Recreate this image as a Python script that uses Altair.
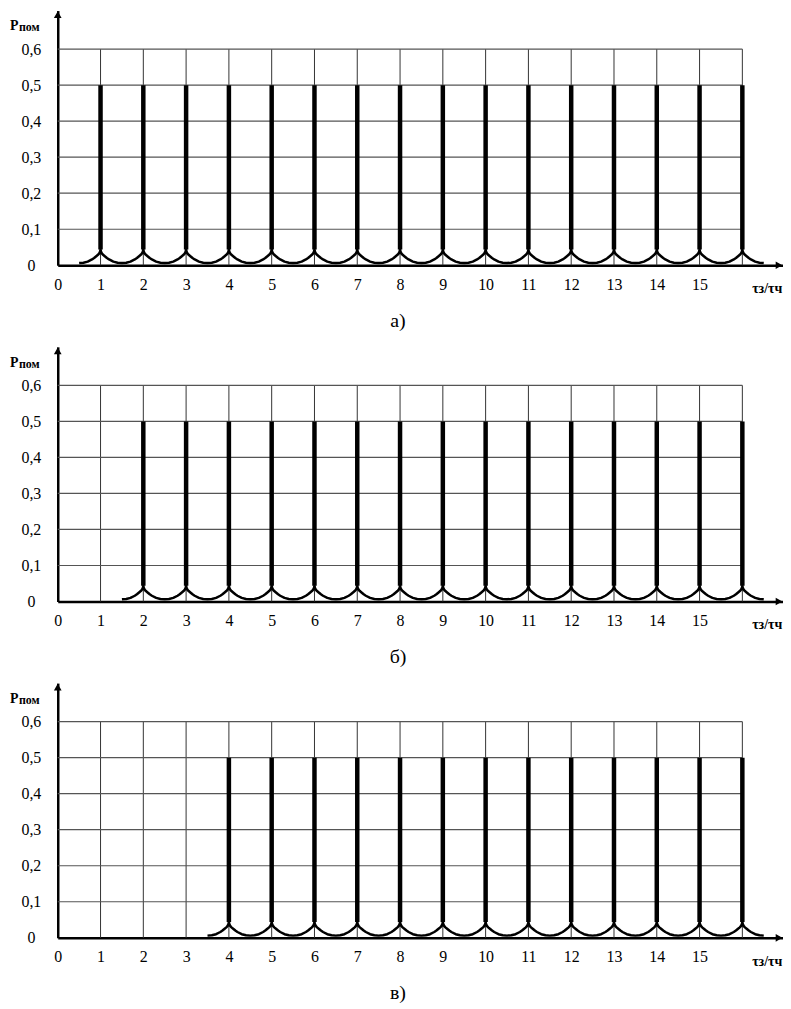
import altair as alt
import pandas as pd

# ---- data ----
x_tick_labels = list(range(0, 16))          # 0 .. 15
grid_x = list(range(1, 17))                 # vertical grid lines 1 .. 16
grid_y = [0.1, 0.2, 0.3, 0.4, 0.5, 0.6]     # horizontal grid lines
y_ticks = [0, 0.1, 0.2, 0.3, 0.4, 0.5, 0.6]
spikes_a = list(range(1, 17))
spikes_b = list(range(2, 17))
spikes_c = list(range(4, 17))
spike_top = 0.5
cusp_value = 0.044
# one half-arch of the curve between spikes (offset from spike, value)
arch_offsets = [0, 0.01, 0.03, 0.06, 0.1, 0.15, 0.2, 0.3, 0.4, 0.5]
arch_values = [0.044, 0.038, 0.033, 0.029, 0.025, 0.020, 0.016, 0.010, 0.007, 0.006]
captions = ["а)", "б)", "в)"]
panel_spikes = [spikes_a, spikes_b, spikes_c]

W, H = 729, 256
XMAX, YMAX = 16.95, 0.707
FONT = "Liberation Serif"

xs = alt.Scale(domain=[0, XMAX], nice=False, zero=False)
ys = alt.Scale(domain=[0, YMAX], nice=False, zero=False)

xaxis = alt.Axis(values=x_tick_labels, format="d", ticks=False, grid=False,
                 domainWidth=2.5, domainColor="black", labelFont=FONT,
                 labelFontSize=16, labelColor="black", labelPadding=11,
                 labelFlush=False, labelOverlap=False, title=None)
yaxis = alt.Axis(values=y_ticks,
                 labelExpr="datum.value == 0 ? '0' : replace(format(datum.value, '.1f'), '.', ',')",
                 ticks=False, grid=False, domainWidth=2.5, domainColor="black",
                 labelFont=FONT, labelFontSize=16, labelColor="black",
                 labelAlign="center", labelBaseline="middle", labelPadding=27,
                 title=None)


def curve_df(spikes):
    rows = []
    i = 0
    for n in spikes:
        for d, v in zip(reversed(arch_offsets), reversed(arch_values)):
            rows.append({"x": n - d, "y": v, "o": i})
            i += 1
        for d, v in zip(arch_offsets[1:], arch_values[1:]):
            rows.append({"x": n + d, "y": v, "o": i})
            i += 1
    return pd.DataFrame(rows)


def panel(spikes, caption):
    curve = curve_df(spikes)
    vgrid = pd.DataFrame({"x": grid_x, "y0": 0.0, "y1": 0.6})
    hgrid = pd.DataFrame({"y": grid_y, "x0": 0.0, "x1": float(grid_x[-1])})
    sp = pd.DataFrame({"x": spikes, "y0": cusp_value, "y1": spike_top})
    one = pd.DataFrame({"t": [caption]})

    vg = alt.Chart(vgrid).mark_rule(color="#333", strokeWidth=1).encode(
        x=alt.X("x:Q", scale=xs, axis=xaxis),
        y=alt.Y("y0:Q", scale=ys, axis=yaxis), y2="y1:Q")
    hg = alt.Chart(hgrid).mark_rule(color="#555", strokeWidth=1.2).encode(
        x=alt.X("x0:Q", scale=xs, axis=xaxis), x2="x1:Q",
        y=alt.Y("y:Q", scale=ys, axis=yaxis))
    line = alt.Chart(curve).mark_line(color="black", strokeWidth=2.5,
                                      strokeJoin="round").encode(
        x=alt.X("x:Q", scale=xs, axis=xaxis),
        y=alt.Y("y:Q", scale=ys, axis=yaxis),
        order="o:Q")
    spk = alt.Chart(sp).mark_rule(color="black", strokeWidth=4.5, strokeCap="butt").encode(
        x=alt.X("x:Q", scale=xs, axis=xaxis),
        y=alt.Y("y0:Q", scale=ys, axis=yaxis), y2="y1:Q")
    arrow_up = alt.Chart(one).mark_point(shape="triangle-up", filled=True, size=60,
                                         color="black", opacity=1).encode(
        x=alt.value(0), y=alt.value(4))
    arrow_right = alt.Chart(one).mark_point(shape="triangle-right", filled=True, size=60,
                                            color="black", opacity=1).encode(
        x=alt.value(W - 4), y=alt.value(H))
    cap = alt.Chart(one).mark_text(font=FONT, fontSize=20, color="black",
                                   align="center", baseline="middle").encode(
        x=alt.value(342), y=alt.value(H + 56), text="t:N")
    p_main = alt.Chart(one).mark_text(text="P", font=FONT, fontSize=14, fontWeight="bold",
                                      color="black", align="left",
                                      baseline="alphabetic").encode(
        x=alt.value(-48), y=alt.value(20))
    p_sub = alt.Chart(one).mark_text(text="пом", font=FONT, fontSize=12, fontWeight="bold",
                                     color="black", align="left",
                                     baseline="alphabetic").encode(
        x=alt.value(-39), y=alt.value(21))
    xlab = alt.Chart(one).mark_text(text="τз/τч", font=FONT, fontSize=14, fontWeight="bold",
                                    color="black", align="left",
                                    baseline="alphabetic").encode(
        x=alt.value(698), y=alt.value(H + 28))

    return alt.layer(vg, hg, line, spk, arrow_up, arrow_right, cap, p_main, p_sub, xlab).properties(
        width=W, height=H)


chart = alt.vconcat(
    *[panel(s, c) for s, c in zip(panel_spikes, captions)],
    spacing=82, bounds="flush"
).properties(
    padding={"left": 2, "top": 0, "right": 0, "bottom": 0},
    background="white"
).configure_view(stroke=None)

chart.save("out.html", embed_options={"renderer": "svg", "actions": False})
